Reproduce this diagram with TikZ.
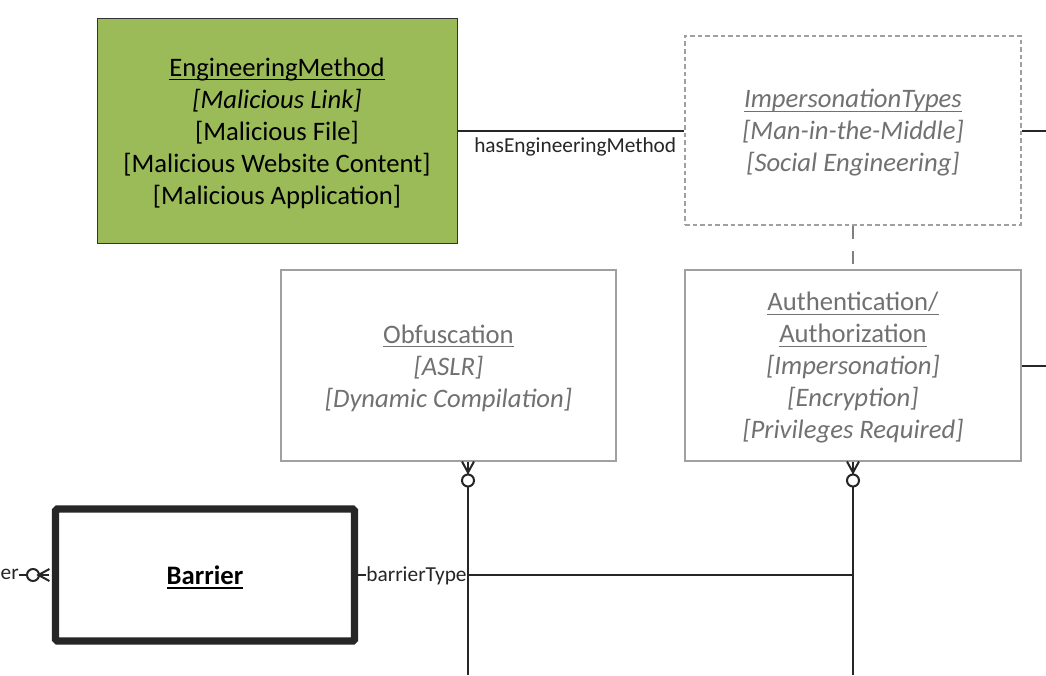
\documentclass[tikz,border=0pt]{standalone}
\usepackage{fontspec}
\setmainfont{Carlito}
\definecolor{grn}{HTML}{9BBB59}
\definecolor{gtext}{HTML}{717171}
\definecolor{gbord}{HTML}{A0A0A0}
\definecolor{lnk}{HTML}{262626}
\newcommand\ulx[1]{\setbox0\hbox{#1}\rlap{\rule[-2.8pt]{\wd0}{0.8pt}}\box0}
\newcommand\topfix{\rule{0pt}{17.5pt}}
\begin{document}
\begin{tikzpicture}[x=0.75pt,y=-0.75pt,
  ent/.style={inner sep=0pt, align=center, font=\fontsize{20}{24}\selectfont},
  greenbox/.style={ent, draw=black!80, line width=0.75pt, fill=grn, minimum width=270pt, minimum height=168.75pt},
  dashbox/.style={ent, draw=gbord, line width=0.9pt, dash pattern=on 3.5pt off 2.2pt, text=gtext, minimum width=252pt, minimum height=141.75pt},
  greybox/.style={ent, draw=gbord, line width=0.9pt, text=gtext, minimum width=251.25pt, minimum height=143.25pt},
  thickbox/.style={ent, draw=lnk, line width=5.4pt, rounded corners=1.2pt, minimum width=224.25pt, minimum height=99pt},
  conn/.style={draw=lnk, line width=1.5pt},
  lbl/.style={inner sep=0pt, font=\fontsize{16}{19}\selectfont, text=lnk}
]
\fill[white] (0,0) rectangle (1046,675);
\useasboundingbox (0,0) rectangle (1046,675);

% entities
\node[greenbox] (em) at (277,130.5) {\topfix\ulx{EngineeringMethod}\\ \textit{{[}Malicious Link{]}}\\ {[}Malicious File{]}\\ {[}Malicious Website Content{]}\\ {[}Malicious Application{]}};
\node[dashbox] (imp) at (853,130.5) {\topfix\textit{\ulx{ImpersonationTypes}}\\ \textit{{[}Man-in-the-Middle{]}}\\ \textit{{[}Social Engineering{]}}};
\node[greybox] (obf) at (448.5,365.5) {\topfix\ulx{Obfuscation}\\ \textit{{[}ASLR{]}}\\ \textit{{[}Dynamic Compilation{]}}};
\node[greybox, minimum width=252pt] (auth) at (853,365.5) {\topfix\ulx{Authentication/}\\ \ulx{Authorization}\\ \textit{{[}Impersonation{]}}\\ \textit{{[}Encryption{]}}\\ \textit{{[}Privileges Required{]}}};
\node[thickbox] (bar) at (205,575) {\topfix\textbf{\ulx{Barrier}}};

% free ends
\coordinate (r1) at (1046,130.5);
\coordinate (r2) at (1046,365.5);
\coordinate (j) at (853,575);
\coordinate (o1) at (468,461.5);
\coordinate (o2) at (853,461.5);
\coordinate (b1) at (468,675);
\coordinate (b2) at (853,675);
\coordinate (lc) at (33,575);

% hasEngineeringMethod
\draw[conn] (em.east) -- (imp.west);
\node[lbl, anchor=west] (hem) at (474,146.5) {hasEngineeringMethod};
\draw[conn] (imp.east) -- (r1);
\draw[conn] (auth.east) -- (r2);
\draw[draw=gray, line width=1.4pt, dash pattern=on 10pt off 9pt] (imp.south) -- (auth.north);

% crow's feet (zero or many) below Obfuscation and Authentication
\foreach \p/\b in {o1/b1, o2/b2}{
  \draw[conn] (\p) ++(-6,0) -- ++(6,11) -- ++(6,-11);
  \draw[conn] (\p) -- ++(0,12);
  \draw[conn, fill=white] (\p) ++(0,19) circle[radius=6];
  \draw[conn] (\p) ++(0,25) -- (\b);
}

% barrierType
\draw[conn] (bar.east) -- (j) node[lbl, pos=0, anchor=west, fill=white, xshift=5.5pt, yshift=-0.5pt] (bt) {barrierType};

% left end
\node[lbl, anchor=east] (er) at (19,574) {er};
\draw[conn] (er.east |- lc) -- ++(8,0);
\draw[conn, fill=white] (lc) circle[radius=6];
\draw[conn] (bar.west |- lc) ++(-2.5,-6) -- ++(-11,6) -- ++(11,6);
\draw[conn] (bar.west |- lc) ++(-2.5,0) -- ++(-11,0);
\end{tikzpicture}
\end{document}
